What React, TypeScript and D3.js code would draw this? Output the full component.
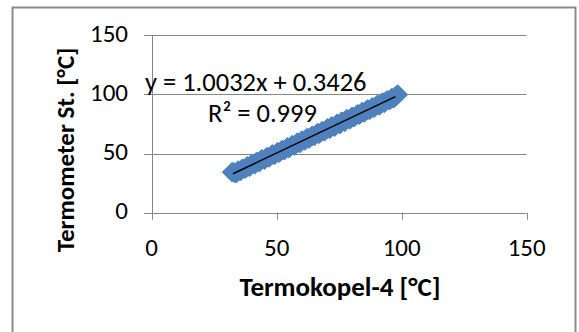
import { useEffect, useRef } from 'react'
import * as d3 from 'd3'

// Termokopel-4 readings (x) and Termometer St. readings (y)
const termokopel = [
  32.2, 33.0, 33.8, 34.6, 35.5, 36.3, 37.4, 38.2, 39.1, 40.0, 41.2, 42.0, 43.1, 44.0, 45.2,
  46.1, 47.0, 48.2, 49.1, 50.3, 51.0, 52.2, 53.1, 54.3, 55.0, 56.2, 57.1, 58.3, 59.2,
  60.1, 61.3, 62.2, 63.0, 64.2, 65.1, 66.3, 67.0, 68.2, 69.1, 70.3, 71.2, 72.0, 73.2,
  74.1, 75.3, 76.0, 77.2, 78.1, 79.3, 80.2, 81.0, 82.3, 83.1, 84.2, 85.0, 86.3, 87.1,
  88.2, 89.0, 90.3, 91.1, 92.2, 93.0, 94.1, 95.2, 96.0, 96.9, 97.6, 98.4,
]
const termometer = [
  34.3, 33.9, 33.5, 35.6, 35.2, 37.1, 37.3, 39.2, 38.8, 41.1, 41.0, 42.9, 42.8, 45.1, 45.0,
  46.9, 46.8, 49.2, 48.9, 51.1, 50.8, 53.0, 52.9, 55.2, 54.7, 57.1, 56.9, 59.2, 58.9,
  61.0, 61.1, 63.1, 62.8, 65.0, 64.9, 67.2, 66.8, 69.0, 68.9, 71.2, 70.9, 72.9, 72.8,
  75.1, 75.0, 76.9, 76.9, 79.1, 78.9, 81.1, 80.8, 83.2, 82.9, 85.1, 84.8, 87.2, 86.9,
  89.0, 88.9, 91.2, 90.8, 93.1, 92.9, 94.9, 95.3, 96.8, 97.0, 98.6, 99.8,
]
const xTicks = [0, 50, 100, 150]
const yTicks = [0, 50, 100, 150]
const slope = 1.0032
const intercept = 0.3426
const rSquared = 0.999

export default function App() {
  const svgRef = useRef<SVGSVGElement>(null)

  useEffect(() => {
    if (!svgRef.current) return
    const svg = d3.select(svgRef.current)
    svg.selectAll('*').remove()

    const W = 579
    const H = 332
    const font = 'Carlito, Calibri, Lato, sans-serif'
    const grid = '#868686'

    svg.attr('width', W).attr('height', H)

    // chart frame
    svg.append('rect')
      .attr('x', 12.5).attr('y', 7.5)
      .attr('width', 563).attr('height', 340)
      .attr('fill', 'white')
      .attr('stroke', '#8a8a8a')
      .attr('stroke-width', 2)

    const x = d3.scaleLinear().domain([0, 150]).range([151.7, 526.7])
    const y = d3.scaleLinear().domain([0, 150]).range([212.7, 35.3])

    // horizontal gridlines with outside ticks
    svg.append('g')
      .selectAll('line')
      .data(yTicks)
      .join('line')
      .attr('x1', 144).attr('x2', x(150))
      .attr('y1', d => Math.round(y(d)) + 0.5)
      .attr('y2', d => Math.round(y(d)) + 0.5)
      .attr('stroke', grid)
      .attr('stroke-width', 1)

    // y axis line
    svg.append('line')
      .attr('x1', Math.round(x(0)) + 0.5).attr('x2', Math.round(x(0)) + 0.5)
      .attr('y1', y(150)).attr('y2', y(0) + 7)
      .attr('stroke', grid)

    // x ticks
    svg.append('g')
      .selectAll('line')
      .data(xTicks.slice(1))
      .join('line')
      .attr('x1', d => Math.round(x(d)) + 0.5)
      .attr('x2', d => Math.round(x(d)) + 0.5)
      .attr('y1', y(0)).attr('y2', y(0) + 7)
      .attr('stroke', grid)

    // tick labels
    svg.append('g')
      .selectAll('text')
      .data(xTicks)
      .join('text')
      .attr('x', d => x(d))
      .attr('y', 247)
      .attr('dy', '0.35em')
      .attr('text-anchor', 'middle')
      .style('font-family', font)
      .style('font-size', '25px')
      .style('fill', '#000')
      .text(d => d)

    svg.append('g')
      .selectAll('text')
      .data(yTicks)
      .join('text')
      .attr('x', 128)
      .attr('y', d => y(d) - 2)
      .attr('dy', '0.35em')
      .attr('text-anchor', 'end')
      .style('font-family', font)
      .style('font-size', '25px')
      .style('fill', '#000')
      .text(d => d)

    // axis titles
    svg.append('text')
      .attr('x', 340).attr('y', 287)
      .attr('dy', '0.35em')
      .attr('text-anchor', 'middle')
      .style('font-family', font)
      .style('font-size', '27px')
      .style('font-weight', 'bold')
      .text('Termokopel-4 [°C]')

    svg.append('text')
      .attr('transform', 'translate(65,150) rotate(-90)')
      .attr('dy', '0.35em')
      .attr('text-anchor', 'middle')
      .style('font-family', font)
      .style('font-size', '25px')
      .style('font-weight', 'bold')
      .text('Termometer St. [°C]')

    // diamond markers
    const diamond = d3.symbol().type(d3.symbolDiamond2).size(250)
    svg.append('g')
      .selectAll('path')
      .data(termokopel.map((v, i) => [v, termometer[i]]))
      .join('path')
      .attr('transform', d => `translate(${x(d[0])},${y(d[1])})`)
      .attr('d', diamond)
      .attr('fill', '#4F81BD')
      .attr('stroke', '#4F81BD')
      .attr('stroke-width', 1)

    // linear trendline
    const xMin = 32.5
    const xMax = 97.5
    svg.append('line')
      .attr('x1', x(xMin)).attr('y1', y(slope * xMin + intercept))
      .attr('x2', x(xMax)).attr('y2', y(slope * xMax + intercept))
      .attr('stroke', '#000')
      .attr('stroke-width', 1.5)

    // trendline label
    svg.append('text')
      .attr('x', 145).attr('y', 82)
      .attr('dy', '0.35em')
      .style('font-family', font)
      .style('font-size', '26.5px')
      .text(`y = ${slope}x + ${intercept}`)

    svg.append('text')
      .attr('x', 208).attr('y', 113)
      .attr('dy', '0.35em')
      .style('font-family', font)
      .style('font-size', '26.5px')
      .text(`R² = ${rSquared}`)
  }, [])

  return (
    <div style={{ position: 'absolute', left: 0, top: 0 }}>
      <svg ref={svgRef}></svg>
    </div>
  )
}
